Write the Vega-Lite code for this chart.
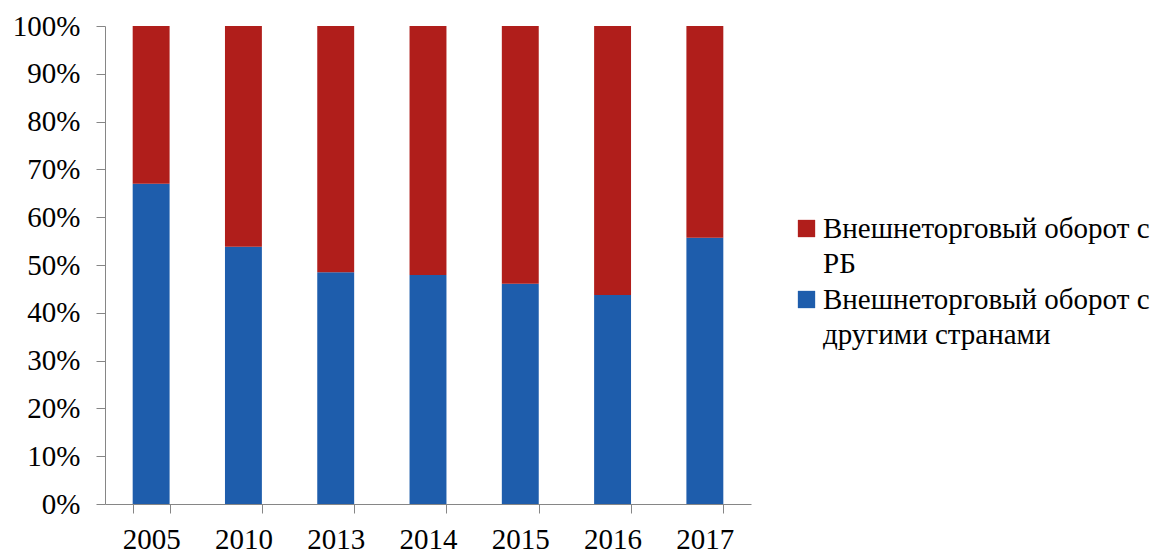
{
  "$schema": "https://vega.github.io/schema/vega-lite/v6.json",
  "width": 646,
  "height": 478,
  "autosize": {"type": "none"},
  "padding": {"left": 105, "top": 26, "right": 399, "bottom": 46},
  "background": "white",
  "config": {
    "view": {"stroke": null},
    "font": "Liberation Serif",
    "style": {"guide-label": {"font": "Liberation Serif", "lineHeight": 35}}
  },
  "data": {
    "values": [
      {"year": "2005", "series": "Внешнеторговый оборот с другими странами", "value": 67.0},
      {"year": "2005", "series": "Внешнеторговый оборот с РБ", "value": 33.0},
      {"year": "2010", "series": "Внешнеторговый оборот с другими странами", "value": 53.8},
      {"year": "2010", "series": "Внешнеторговый оборот с РБ", "value": 46.2},
      {"year": "2013", "series": "Внешнеторговый оборот с другими странами", "value": 48.5},
      {"year": "2013", "series": "Внешнеторговый оборот с РБ", "value": 51.5},
      {"year": "2014", "series": "Внешнеторговый оборот с другими странами", "value": 47.9},
      {"year": "2014", "series": "Внешнеторговый оборот с РБ", "value": 52.1},
      {"year": "2015", "series": "Внешнеторговый оборот с другими странами", "value": 46.1},
      {"year": "2015", "series": "Внешнеторговый оборот с РБ", "value": 53.9},
      {"year": "2016", "series": "Внешнеторговый оборот с другими странами", "value": 43.7},
      {"year": "2016", "series": "Внешнеторговый оборот с РБ", "value": 56.3},
      {"year": "2017", "series": "Внешнеторговый оборот с другими странами", "value": 55.7},
      {"year": "2017", "series": "Внешнеторговый оборот с РБ", "value": 44.3}
    ]
  },
  "mark": {"type": "bar"},
  "encoding": {
    "x": {
      "field": "year",
      "type": "nominal",
      "sort": null,
      "scale": {"paddingInner": 0.6, "paddingOuter": 0.3},
      "axis": {
        "title": null,
        "labelAngle": 0,
        "tickBand": "extent",
        "domainColor": "#868686",
        "tickColor": "#868686",
        "tickSize": 9,
        "labelFontSize": 29,
        "labelColor": "black",
        "labelFont": "Liberation Serif",
        "labelPadding": 12
      }
    },
    "y": {
      "field": "value",
      "type": "quantitative",
      "stack": "normalize",
      "scale": {"domain": [0, 1]},
      "axis": {
        "title": null,
        "format": ".0%",
        "values": [0, 0.1, 0.2, 0.3, 0.4, 0.5, 0.6, 0.7, 0.8, 0.9, 1],
        "grid": false,
        "domainColor": "#868686",
        "tickColor": "#868686",
        "tickSize": 9,
        "labelFontSize": 29,
        "labelColor": "black",
        "labelFont": "Liberation Serif",
        "labelPadding": 16
      }
    },
    "color": {
      "field": "series",
      "type": "nominal",
      "scale": {
        "domain": ["Внешнеторговый оборот с РБ", "Внешнеторговый оборот с другими странами"],
        "range": ["#B01E1B", "#1E5DAC"]
      },
      "legend": {
        "title": null,
        "orient": "none",
        "legendX": 687,
        "legendY": 188,
        "symbolType": "square",
        "symbolSize": 300,
        "symbolStrokeWidth": 0,
        "labelFontSize": 29,
        "labelFont": "Liberation Serif",
        "labelColor": "black",
        "labelOffset": 2,
        "labelLimit": 500,
        "rowPadding": 6,
        "labelExpr": "datum.label == 'Внешнеторговый оборот с РБ' ? ['Внешнеторговый оборот с', 'РБ'] : ['Внешнеторговый оборот с', 'другими странами']"
      }
    },
    "order": {"field": "series", "sort": "descending"}
  }
}
